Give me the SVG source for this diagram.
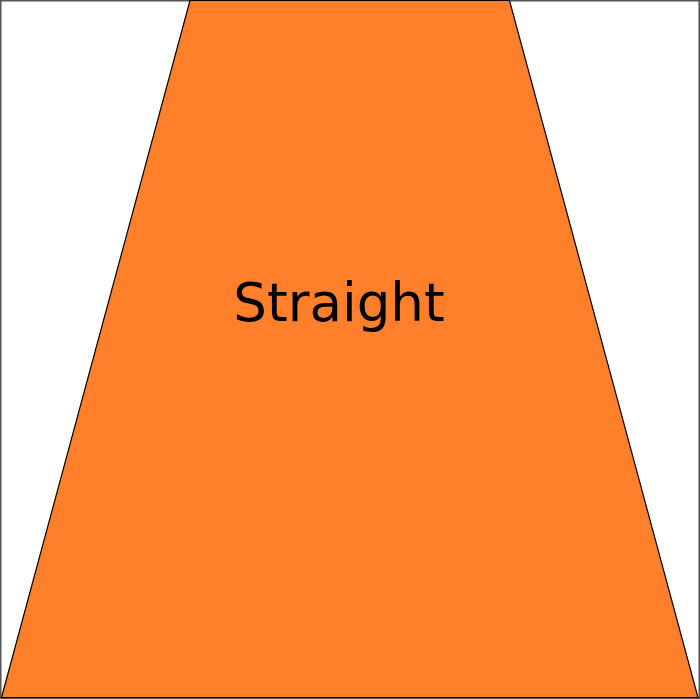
<svg xmlns="http://www.w3.org/2000/svg" width="700" height="699" viewBox="0 0 700 699">
<style>
.frame{fill:#ffffff;stroke:#555555;stroke-width:1.5}
.shape{fill:#ff7f2a;stroke:#000000;stroke-width:1.2}
.label{font-family:"DejaVu Sans",Verdana,sans-serif;font-size:53px;fill:#000000;text-anchor:middle}
</style>
<rect class="frame" x="0.75" y="0.75" width="698.5" height="697.5"/>
<g id="straight">
<polygon class="shape" points="190,0.5 509.5,0.5 698,697.5 1.5,697.5"/>
<text class="label" x="339" y="321">Straight</text>
</g>
</svg>
